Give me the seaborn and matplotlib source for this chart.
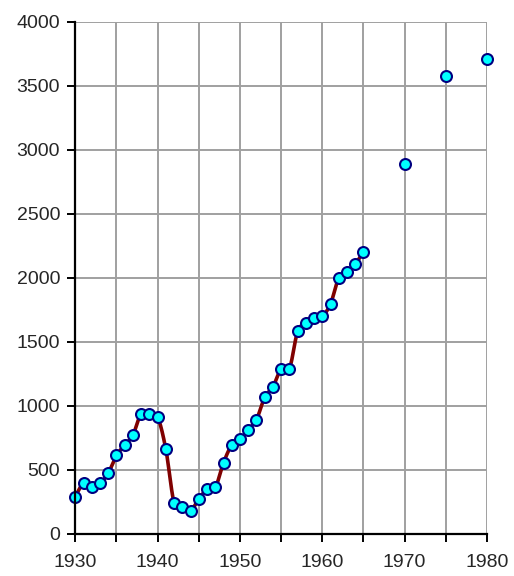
import numpy as np
import pandas as pd
import matplotlib
matplotlib.use("Agg")
import matplotlib.pyplot as plt
import seaborn as sns

# Data
years_line = list(range(1930, 1966))
values_line = [288, 392, 360, 392, 472, 610, 692, 770, 938, 938, 910, 657,
               240, 205, 177, 271, 345, 360, 553, 692, 736, 812, 890, 1066,
               1146, 1287, 1287, 1580, 1643, 1687, 1700, 1796, 1998, 2043,
               2108, 2201]
years_extra = [1970, 1975, 1980]
values_extra = [2887, 3576, 3714]

x_ticks = [1930, 1935, 1940, 1945, 1950, 1955, 1960, 1965, 1970, 1975, 1980]
x_labels = ["1930", "", "1940", "", "1950", "", "1960", "", "1970", "", "1980"]
y_ticks = [0, 500, 1000, 1500, 2000, 2500, 3000, 3500, 4000]


def smooth(x, y, n=20):
    # Excel-style smoothed line (cardinal bezier through the points)
    x = np.asarray(x, float)
    y = np.asarray(y, float)
    px, py = [], []
    for i in range(len(x) - 1):
        x0, y0 = (x[i - 1], y[i - 1]) if i > 0 else (x[i], y[i])
        x3, y3 = (x[i + 2], y[i + 2]) if i + 2 < len(x) else (x[i + 1], y[i + 1])
        x1, y1, x2, y2 = x[i], y[i], x[i + 1], y[i + 1]
        c1x, c1y = x1 + (x2 - x0) / 6, y1 + (y2 - y0) / 6
        c2x, c2y = x2 - (x3 - x1) / 6, y2 - (y3 - y1) / 6
        t = np.linspace(0, 1, n, endpoint=False)
        px.extend((1 - t) ** 3 * x1 + 3 * (1 - t) ** 2 * t * c1x + 3 * (1 - t) * t ** 2 * c2x + t ** 3 * x2)
        py.extend((1 - t) ** 3 * y1 + 3 * (1 - t) ** 2 * t * c1y + 3 * (1 - t) * t ** 2 * c2y + t ** 3 * y2)
    px.append(x[-1])
    py.append(y[-1])
    return np.array(px), np.array(py)


sns.set_style("white")
plt.rcParams['font.family'] = ['Liberation Sans', 'DejaVu Sans']

sx, sy = smooth(years_line, values_line)
df_curve = pd.DataFrame({"x": sx, "y": sy})
df_pts = pd.DataFrame({"year": years_line + years_extra,
                       "value": values_line + values_extra})

fig = plt.figure(figsize=(5.14, 5.76), dpi=100)
ax = fig.add_axes([75.3 / 514, (576 - 533.5) / 576, (487 - 75.3) / 514, (533.5 - 22) / 576])

sns.lineplot(data=df_curve, x="x", y="y", ax=ax, color="#800000", linewidth=2.6,
             sort=False, estimator=None, zorder=3)
sns.scatterplot(data=df_pts, x="year", y="value", ax=ax, color="#00FFFF",
                edgecolor="#000080", linewidth=1.5, s=62, zorder=4, clip_on=False)

ax.set_xlim(1930, 1980)
ax.set_ylim(0, 4000)
ax.set_xticks(x_ticks)
ax.set_xticklabels(x_labels)
ax.set_yticks(y_ticks)
ax.set_xlabel("")
ax.set_ylabel("")
ax.grid(True, color="#a0a0a0", linewidth=1.4)
ax.set_axisbelow(True)
for s in ["top", "right"]:
    ax.spines[s].set_visible(False)
for s in ["left", "bottom"]:
    ax.spines[s].set_color("black")
    ax.spines[s].set_linewidth(1.6)
    ax.spines[s].set_zorder(5)
ax.tick_params(axis="both", direction="out", length=6, width=1.4, color="black",
               labelsize=14, left=True, bottom=True)
ax.tick_params(axis="x", pad=9)
ax.tick_params(axis="y", pad=5)

fig.savefig("out.png", dpi=100)
